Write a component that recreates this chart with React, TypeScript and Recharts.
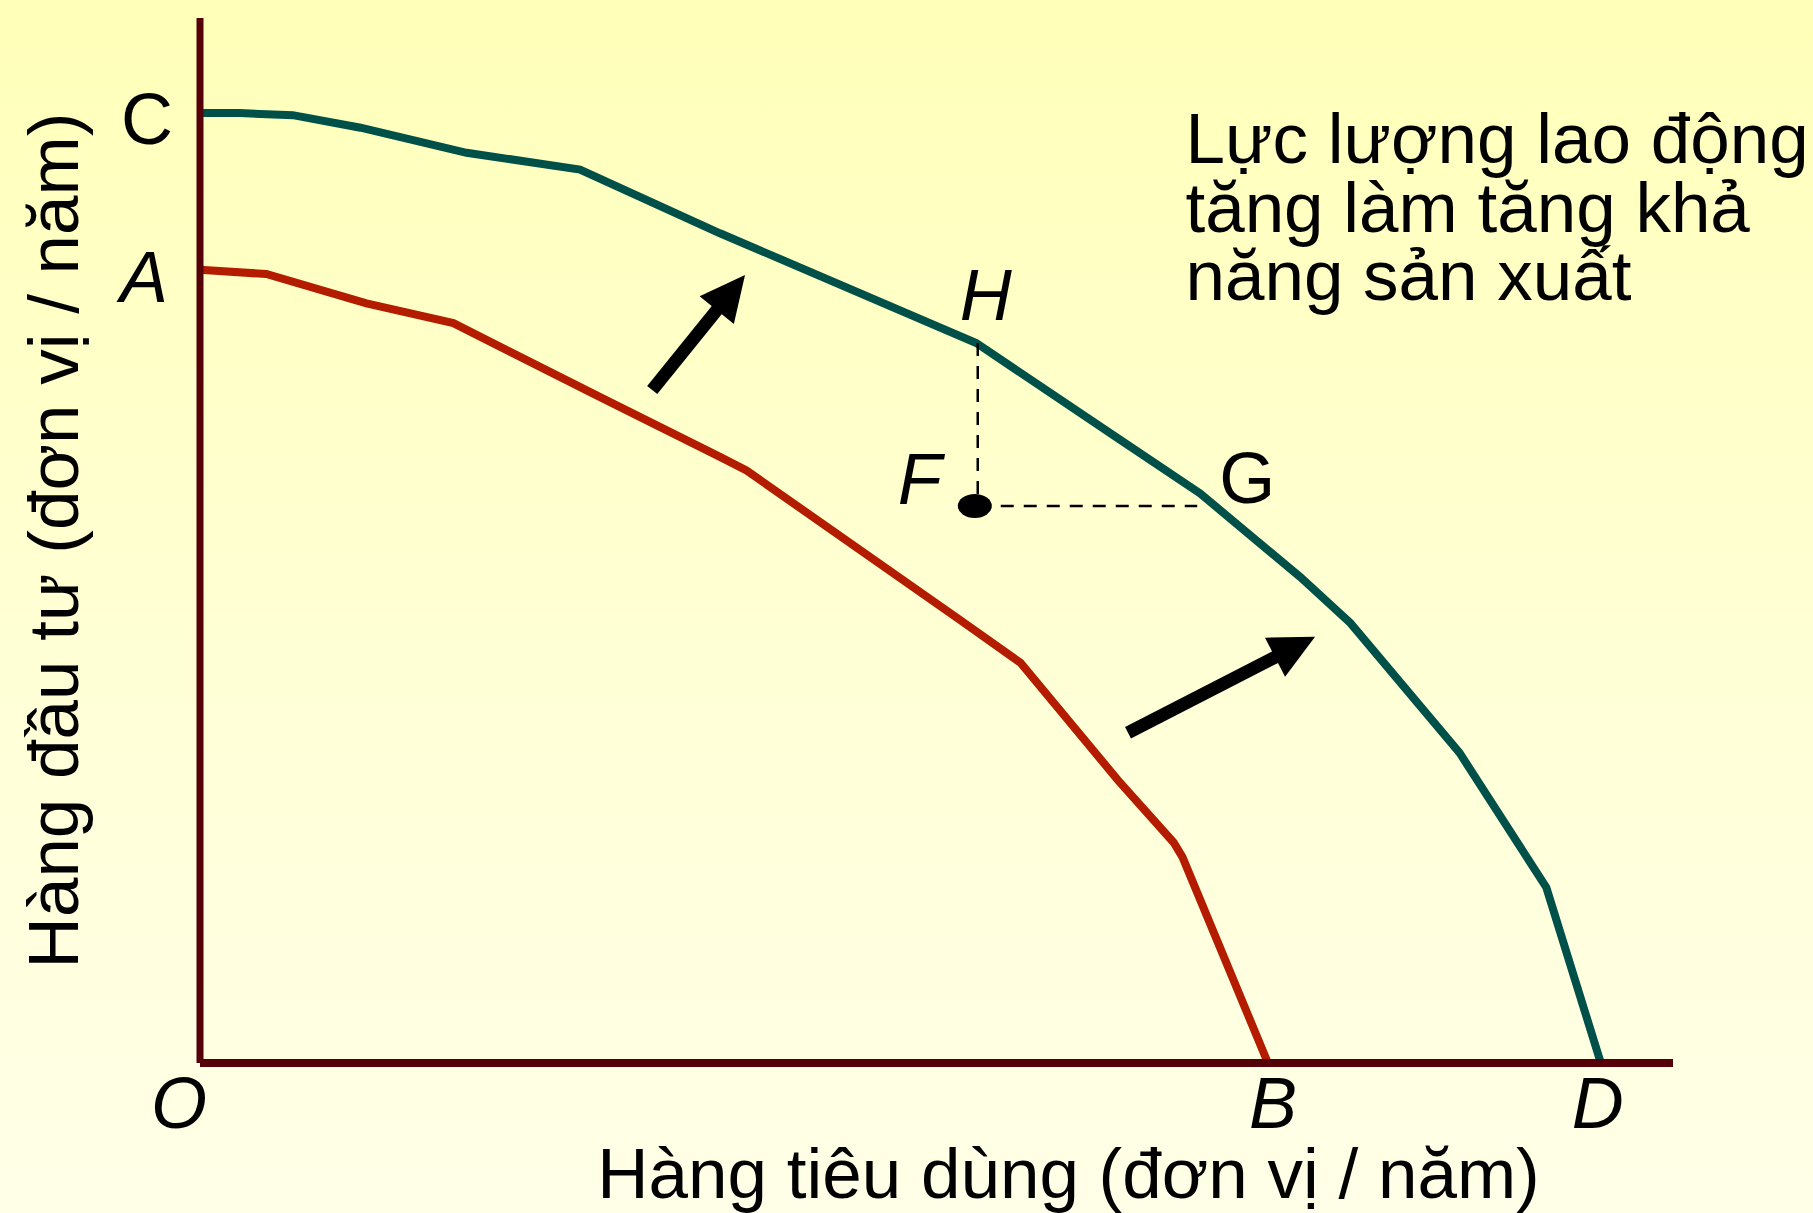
import {
  LineChart,
  Line,
  XAxis,
  YAxis,
  ReferenceLine,
  ReferenceDot,
  Label,
} from "recharts";

const FONT = '"Liberation Sans", Arial, sans-serif';

// điểm cắt trên hai trục
const xTickValues = [0, 72.5, 95.1];
const xTickLabels = ["O", "B", "D"];
const yTickValues = [75.9, 90.9];
const yTickLabels = ["A", "C"];

// đường giới hạn khả năng sản xuất ban đầu (A-B)
const ppfBefore = [
  { x: 0, y: 75.9 },
  { x: 4.5, y: 75.5 },
  { x: 11.3, y: 72.7 },
  { x: 17.2, y: 70.8 },
  { x: 27.2, y: 63.7 },
  { x: 35.3, y: 58.0 },
  { x: 37.1, y: 56.7 },
  { x: 51.6, y: 42.4 },
  { x: 55.7, y: 38.3 },
  { x: 62.3, y: 27.1 },
  { x: 66.1, y: 21.1 },
  { x: 66.7, y: 19.7 },
  { x: 72.5, y: 0 },
];

// đường sau khi lực lượng lao động tăng (C-D)
const ppfAfter = [
  { x: 0, y: 90.9 },
  { x: 2.7, y: 90.9 },
  { x: 6.3, y: 90.7 },
  { x: 10.9, y: 89.5 },
  { x: 18.1, y: 87.1 },
  { x: 25.8, y: 85.5 },
  { x: 35.3, y: 79.4 },
  { x: 52.7, y: 68.9 },
  { x: 62.5, y: 59.6 },
  { x: 67.9, y: 54.5 },
  { x: 74.7, y: 46.5 },
  { x: 78.1, y: 42.1 },
  { x: 85.5, y: 29.7 },
  { x: 91.4, y: 16.8 },
  { x: 95.1, y: 0 },
];

// các điểm H, F, G
const pointNames = ["H", "F", "G"];
const pointX = [52.8, 52.8, 67.7];
const pointY = [68.9, 53.3, 53.3];

// mũi tên dịch chuyển
const arrowFrom = [
  { x: 30.7, y: 64.4 },
  { x: 63.0, y: 31.6 },
];
const arrowTo = [
  { x: 37.0, y: 75.4 },
  { x: 75.7, y: 40.8 },
];

const noteLines = ["Lực lượng lao động", "tăng làm tăng khả", "năng sản xuất"];
const notePos = { x: 66.9, y: 86.1 };

const xTitle = "Hàng tiêu dùng (đơn vị / năm)";
const yTitle = "Hàng đầu tư (đơn vị / năm)";

// letter placement (px) and style
const letterNudge: Record<string, { dx: number; dy: number; italic: boolean }> = {
  O: { dx: -21, dy: 65, italic: true },
  B: { dx: 5, dy: 65, italic: true },
  D: { dx: -3, dy: 65, italic: true },
  A: { dx: -56, dy: 32, italic: true },
  C: { dx: -53, dy: 31, italic: false },
  H: { dx: 8, dy: -23, italic: true },
  F: { dx: -58, dy: -2, italic: true },
  G: { dx: 50, dy: -3, italic: false },
};

const AXIS = "#550008";
const TEAL = "#00504a";
const RED = "#b41c00";

function Letter({ x, y, name }: { x: number; y: number; name: string }) {
  const n = letterNudge[name];
  return (
    <text
      x={x + n.dx}
      y={y + n.dy}
      textAnchor="middle"
      fontFamily={FONT}
      fontSize={72}
      fontStyle={n.italic ? "italic" : "normal"}
      fill="#000"
    >
      {name}
    </text>
  );
}

function XTick(props: any) {
  const i = xTickValues.indexOf(props.payload.value);
  return <Letter x={props.x} y={props.y} name={xTickLabels[i]} />;
}

function YTick(props: any) {
  const i = yTickValues.indexOf(props.payload.value);
  return <Letter x={props.x} y={props.y} name={yTickLabels[i]} />;
}

function Arrow(props: any) {
  const { x1, y1, x2, y2 } = props;
  const ang = Math.atan2(y2 - y1, x2 - x1);
  const head = 45;
  const half = 22;
  const bx = x2 - head * Math.cos(ang);
  const by = y2 - head * Math.sin(ang);
  const px = -Math.sin(ang) * half;
  const py = Math.cos(ang) * half;
  return (
    <g>
      <line x1={x1} y1={y1} x2={bx + Math.cos(ang) * 4} y2={by + Math.sin(ang) * 4} stroke="#000" strokeWidth={13} />
      <polygon
        points={`${x2},${y2} ${bx + px},${by + py} ${bx - px},${by - py}`}
        fill="#000"
      />
    </g>
  );
}

export default function App() {
  return (
    <div
      style={{
        position: "absolute",
        left: 0,
        top: 0,
        width: 1813,
        height: 1213,
        background: "linear-gradient(to bottom, #ffffb9 0%, #ffffd6 55%, #ffffe8 100%)",
      }}
    >
      <LineChart
        width={1813}
        height={1213}
        margin={{ top: 18, right: 140, bottom: 0, left: 0 }}
      >
        <XAxis
          type="number"
          dataKey="x"
          domain={[0, 100]}
          ticks={xTickValues}
          interval={0}
          tick={<XTick />}
          tickLine={false}
          tickSize={0}
          tickMargin={0}
          axisLine={{ stroke: AXIS, strokeWidth: 8 }}
          height={150}
        >
          <Label
            content={(p: any) => {
              const vb = p.viewBox || { x: 200, y: 1063, width: 1473, height: 150 };
              return (
                <text
                  x={vb.x + vb.width / 2 + 132}
                  y={vb.y + 135}
                  textAnchor="middle"
                  fontFamily={FONT}
                  fontSize={71}
                  fill="#000"
                >
                  {xTitle}
                </text>
              );
            }}
          />
        </XAxis>
        <YAxis
          type="number"
          dataKey="y"
          domain={[0, 100]}
          ticks={yTickValues}
          interval={0}
          tick={<YTick />}
          tickLine={false}
          tickSize={0}
          tickMargin={0}
          axisLine={{ stroke: AXIS, strokeWidth: 7 }}
          width={200}
        >
          <Label
            content={(p: any) => {
              const vb = p.viewBox || { x: 0, y: 18, width: 200, height: 1045 };
              const cx = 78;
              const cy = vb.y + vb.height / 2;
              return (
                <text
                  x={cx}
                  y={cy}
                  textAnchor="middle"
                  transform={`rotate(-90 ${cx} ${cy})`}
                  fontFamily={FONT}
                  fontSize={71}
                  fill="#000"
                >
                  {yTitle}
                </text>
              );
            }}
          />
        </YAxis>

        <Line
          data={ppfBefore}
          dataKey="y"
          type="linear"
          stroke={RED}
          strokeWidth={8}
          dot={false}
          activeDot={false}
          isAnimationActive={false}
        />
        <Line
          data={ppfAfter}
          dataKey="y"
          type="linear"
          stroke={TEAL}
          strokeWidth={8}
          dot={false}
          activeDot={false}
          isAnimationActive={false}
        />

        {/* đường gióng H-F và F-G */}
        <ReferenceLine
          segment={[
            { x: pointX[0], y: pointY[0] },
            { x: pointX[1], y: pointY[1] },
          ]}
          stroke="#000"
          strokeWidth={2.5}
          strokeDasharray="13 10"
        />
        <ReferenceLine
          segment={[
            { x: pointX[1], y: pointY[1] },
            { x: pointX[2], y: pointY[2] },
          ]}
          stroke="#000"
          strokeWidth={2.5}
          strokeDasharray="13 10"
        />
        <ReferenceDot
          x={pointX[1] - 0.2}
          y={pointY[1]}
          r={12}
          shape={(p: any) => (
            <ellipse cx={p.cx} cy={p.cy} rx={17} ry={12} fill="#000" />
          )}
        />

        {pointNames.map((name, i) => (
          <ReferenceDot
            key={name}
            x={pointX[i]}
            y={pointY[i]}
            r={1}
            shape={(p: any) => <Letter x={p.cx} y={p.cy} name={name} />}
          />
        ))}

        {arrowFrom.map((a, i) => (
          <ReferenceLine
            key={`arrow-${i}`}
            segment={[a, arrowTo[i]]}
            shape={<Arrow />}
          />
        ))}

        <ReferenceDot
          x={notePos.x}
          y={notePos.y}
          r={1}
          shape={(p: any) => (
            <text x={p.cx} y={p.cy} fontFamily={FONT} fontSize={71} fill="#000">
              {noteLines.map((t, i) => (
                <tspan key={i} x={p.cx} dy={i === 0 ? 0 : 68.5}>
                  {t}
                </tspan>
              ))}
            </text>
          )}
        />
      </LineChart>
    </div>
  );
}
